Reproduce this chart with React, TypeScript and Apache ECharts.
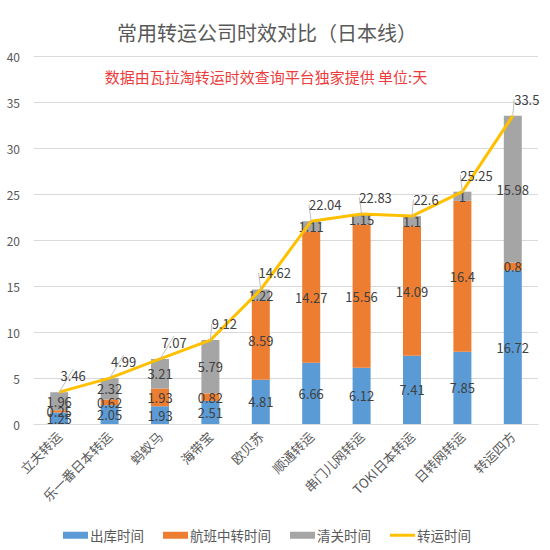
import React, { useEffect, useRef } from 'react';
import * as echarts from 'echarts';

const companies = [
  '立夫转运',
  '乐一番日本转运',
  '蚂蚁马',
  '海带宝',
  '欧贝苏',
  '顺通转运',
  '串门儿网转运',
  'TOKI日本转运',
  '日转网转运',
  '转运四方',
];
const outboundDays = [1.25, 2.05, 1.93, 2.51, 4.81, 6.66, 6.12, 7.41, 7.85, 16.72];
const flightDays = [0.25, 0.62, 1.93, 0.82, 8.59, 14.27, 15.56, 14.09, 16.4, 0.8];
const customsDays = [1.96, 2.32, 3.21, 5.79, 1.22, 1.11, 1.15, 1.1, 1, 15.98];
const totalDays = [3.46, 4.99, 7.07, 9.12, 14.62, 22.04, 22.83, 22.6, 25.25, 33.5];

const FONT = '"Noto Sans CJK SC", "Noto Sans", sans-serif';

const App: React.FC = () => {
  const chartRef = useRef<HTMLDivElement>(null);

  useEffect(() => {
    document.body.style.margin = '0';
    const chart = echarts.init(chartRef.current!, undefined, { renderer: 'svg' });

    const barLabel = {
      show: true,
      position: 'inside',
      color: '#404040',
      fontSize: 13,
      fontFamily: FONT,
    };

    const option = {
      animation: false,
      backgroundColor: '#ffffff',
      textStyle: { fontFamily: FONT },
      title: [
        {
          text: '常用转运公司时效对比（日本线）',
          left: 262,
          top: 17,
          textAlign: 'center',
          textStyle: { color: '#595959', fontSize: 20, fontWeight: 'normal', fontFamily: FONT },
        },
        {
          text: '数据由瓦拉淘转运时效查询平台独家提供 单位:天',
          left: 261,
          top: 64,
          textAlign: 'center',
          textStyle: { color: '#ee3b3b', fontSize: 15, fontWeight: 'normal', fontFamily: FONT },
        },
      ],
      legend: {
        bottom: 3,
        left: 58,
        itemWidth: 25,
        itemHeight: 7,
        itemGap: 19,
        textStyle: { color: '#595959', fontSize: 13.5, fontFamily: FONT, padding: [0, 0, 0, -3] },
        data: [
          { name: '出库时间', icon: 'rect' },
          { name: '航班中转时间', icon: 'rect' },
          { name: '清关时间', icon: 'rect' },
          { name: '转运时间', icon: 'path://M0,0 L25,0 L25,3 L0,3 Z' },
        ],
      },
      grid: { left: 34, right: 12, top: 56, bottom: 126 },
      xAxis: {
        type: 'category',
        data: companies,
        axisLine: { lineStyle: { color: '#d9d9d9' } },
        axisTick: { show: false },
        axisLabel: { rotate: 45, color: '#595959', fontSize: 13, interval: 0, margin: 10, fontFamily: FONT },
      },
      yAxis: {
        type: 'value',
        min: 0,
        max: 40,
        interval: 5,
        axisLine: { show: false },
        axisTick: { show: false },
        axisLabel: { color: '#595959', fontSize: 12, margin: 14, fontFamily: FONT },
        splitLine: { lineStyle: { color: '#d9d9d9' } },
      },
      series: [
        {
          name: '出库时间',
          type: 'bar',
          stack: 'days',
          barWidth: 18,
          data: outboundDays,
          itemStyle: { color: '#5b9bd5' },
          label: barLabel,
        },
        {
          name: '航班中转时间',
          type: 'bar',
          stack: 'days',
          data: flightDays,
          itemStyle: { color: '#ed7d31' },
          label: barLabel,
        },
        {
          name: '清关时间',
          type: 'bar',
          stack: 'days',
          data: customsDays,
          itemStyle: { color: '#a5a5a5' },
          label: barLabel,
        },
        {
          name: '转运时间',
          type: 'line',
          data: totalDays,
          showSymbol: true,
          symbol: 'circle',
          symbolSize: 0,
          z: 5,
          lineStyle: { color: '#ffc000', width: 3 },
          itemStyle: { color: '#ffc000' },
          label: {
            show: true,
            position: 'top',
            distance: 0,
            color: '#404040',
            fontSize: 13,
            fontFamily: FONT,
          },
          labelLayout: { dx: 14, dy: -10 },
          labelLine: { show: true, lineStyle: { color: '#bfbfbf', width: 1 } },
        },
      ],
    };

    chart.setOption(option);

    return () => {
      chart.dispose();
    };
  }, []);

  return <div ref={chartRef} style={{ width: '550px', height: '550px' }} />;
};

export default App;
